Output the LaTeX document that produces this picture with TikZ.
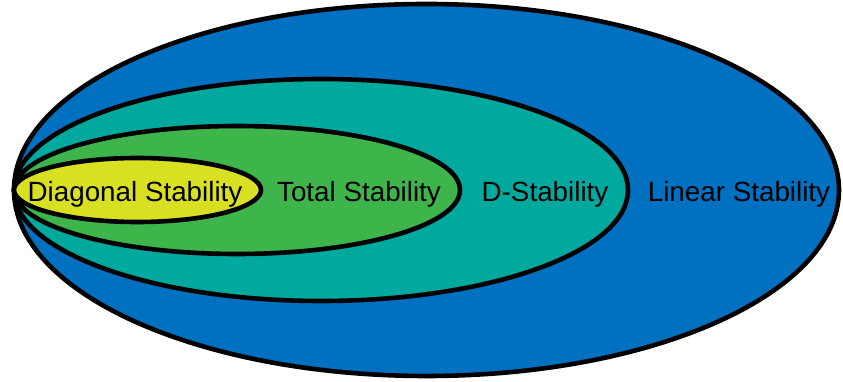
\documentclass[tikz,border=0pt]{standalone}
\usepackage{fontspec}
\setmainfont{Liberation Sans}
\definecolor{linblue}{RGB}{0,112,192}
\definecolor{dteal}{RGB}{0,169,157}
\definecolor{totgreen}{RGB}{61,181,74}
\definecolor{diagyellow}{RGB}{217,224,33}
\tikzset{
  region/.style={draw=black, line width=4.6pt},
  lbl/.style={anchor=base, inner sep=0pt, font=\fontsize{27.8}{30}\selectfont}
}
\begin{document}
\begin{tikzpicture}[x=1pt,y=1pt]
\useasboundingbox (0,0) rectangle (843,382);
% centre line at y = 382-190 = 192
\draw[region, fill=linblue] (426.5,192) ellipse [x radius=412.5, y radius=186];
\draw[region, fill=dteal] (321,192) ellipse [x radius=307, y radius=111];
\draw[region, fill=totgreen] (237,192) ellipse [x radius=223, y radius=64];
\draw[region, fill=diagyellow] (137.5,192) ellipse [x radius=123.5, y radius=32];
\node[lbl] (diag) at (135,180) {Diagonal Stability};
\node[lbl] (tot) at (359,180) {Total Stability};
\node[lbl] (dst) at (545,180) {D-Stability};
\node[lbl] (lin) at (739,180) {Linear Stability};
\end{tikzpicture}
\end{document}
